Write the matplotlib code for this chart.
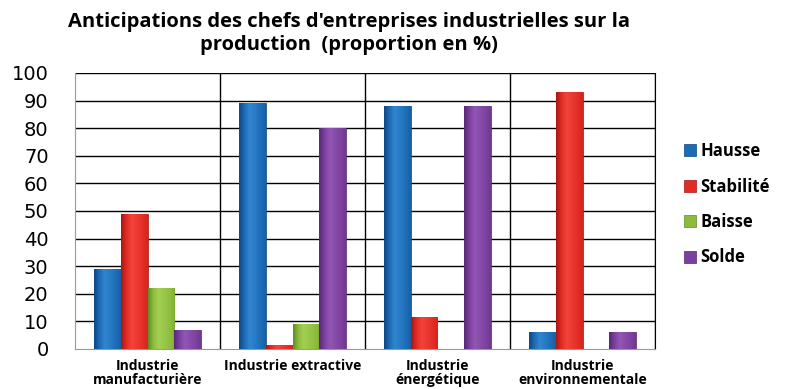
import matplotlib
matplotlib.use("Agg")
import matplotlib.pyplot as plt
import numpy as np
from matplotlib.colors import LinearSegmentedColormap

categories = ["Industrie\nmanufacturière", "Industrie extractive",
              "Industrie\nénergétique", "Industrie\nenvironnementale"]
series_names = ["Hausse", "Stabilité", "Baisse", "Solde"]
hausse = [29, 89, 88, 6]
stabilite = [49, 1.5, 11.5, 93]
baisse = [22, 9, 0, 0]
solde = [7, 80, 88, 6]
yticks = [0, 10, 20, 30, 40, 50, 60, 70, 80, 90, 100]
title = "Anticipations des chefs d'entreprises industrielles sur la\nproduction  (proportion en %)"

colors = ["#1C6BB4", "#E12B25", "#8CBC3D", "#7B3F9C"]
darks = ["#0E4684", "#A81712", "#5F8C22", "#552874"]
lights = ["#2F86CF", "#F2433A", "#A3CF52", "#9256B5"]

fig = plt.figure(figsize=(7.85, 3.89), dpi=100)
ax = fig.add_axes([75/785, 1-349/389, 580/785, (349-73)/389])

x = np.arange(len(categories))
w = 0.185
data = [hausse, stabilite, baisse, solde]
grad = np.concatenate([np.linspace(0, 1, 40), np.linspace(1, 0.35, 60)])[None, :]
for i, (vals, name) in enumerate(zip(data, series_names)):
    bars = ax.bar(x + (i - 1.5) * w, vals, width=w, color=colors[i],
                  edgecolor=darks[i], linewidth=0.5, label=name, zorder=3)
    cmap = LinearSegmentedColormap.from_list("g%d" % i, [darks[i], colors[i], lights[i]])
    for b in bars:
        if b.get_height() <= 0:
            continue
        bx, by = b.get_x(), b.get_y()
        im = ax.imshow(grad, extent=[bx, bx + b.get_width(), by, by + b.get_height()],
                       aspect="auto", cmap=cmap, vmin=0, vmax=1, zorder=4,
                       interpolation="bicubic")
        im.set_clip_path(b)

ax.set_xlim(-0.5, len(categories) - 0.5)
ax.set_ylim(0, 100)
ax.set_yticks(yticks)
ax.set_yticklabels([str(v) for v in yticks], fontsize=14, family="DejaVu Sans")
ax.tick_params(axis="y", length=0, pad=19)
ax.set_xticks(x)
ax.set_xticklabels(categories, fontsize=10, fontweight="bold", family="Open Sans",
                   linespacing=1.05)
ax.tick_params(axis="x", length=0, pad=7)

for yv in yticks[1:]:
    ax.axhline(yv, color="black", linewidth=1.0, zorder=1)
for xb in np.arange(0.5, len(categories), 1.0):
    ax.axvline(xb, color="black", linewidth=1.0, zorder=1)

ax.spines["top"].set_visible(False)
ax.spines["right"].set_color("black")
ax.spines["left"].set_color("#999999")
ax.spines["bottom"].set_color("#999999")

fig.text(349/785, 1-12/389, title, ha="center", va="top", fontsize=14.5,
         fontweight="bold", family="Open Sans", linespacing=1.2)

leg = fig.legend(loc="upper left", bbox_to_anchor=(669/785, 1-127/389),
                 frameon=False, prop={"family": "Open Sans", "weight": "bold", "size": 12},
                 handlelength=0.7, handleheight=0.7, handletextpad=0.3,
                 labelspacing=1.05)

fig.savefig("out.png", dpi=100)
